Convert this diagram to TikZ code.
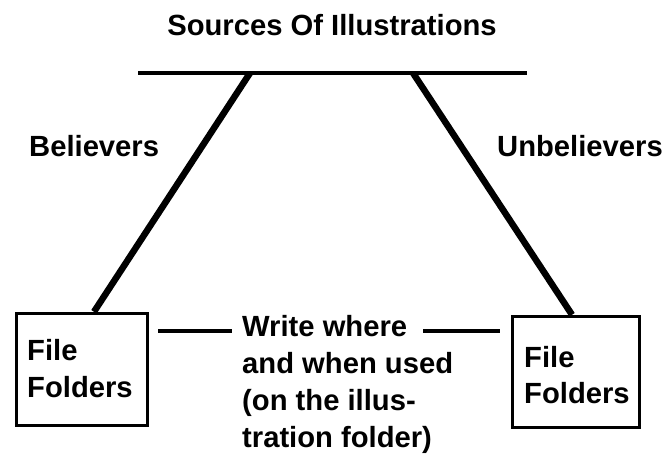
\documentclass[tikz,border=0pt]{standalone}
\usepackage{fontspec}
\setmainfont{Liberation Sans}
\begin{document}
\begin{tikzpicture}[x=1pt,y=-1pt,
  lbl/.style={font=\bfseries\fontsize{29.2}{36.8}\selectfont, inner sep=0pt, anchor=base west},
  folder/.style={draw, line width=3.5pt, inner sep=0pt},
  thick line/.style={line width=6.5pt},
  thin line/.style={line width=4.5pt}]
\useasboundingbox (0,0) rectangle (667,455);
% title and bar
\node[lbl, anchor=base] (title) at (332,35) {Sources Of Illustrations};
\coordinate (barL) at (138,73);
\coordinate (barR) at (527,73);
\draw[thin line] (barL) -- (barR);
% boxes
\node[folder, minimum width=131pt, minimum height=112pt] (lbox) at (82,369.5) {};
\node[folder, minimum width=127pt, minimum height=111pt] (rbox) at (576,372) {};
\node[lbl] (ltext) at (27,360) {File};
\node[lbl] (ltext2) at (27,397) {Folders};
\node[lbl] (rtext) at (524,367) {File};
\node[lbl] (rtext2) at (524,403) {Folders};
% labels
\node[lbl] (bel) at (29,156) {Believers};
\node[lbl] (unbel) at (497,156) {Unbelievers};
% note (base anchor = baseline of the last line)
\node[lbl, anchor=base west, align=left] (note) at (242,447)
  {Write where\\and when used\\(on the illus-\\tration folder)};
% diagonals
\coordinate (ltop) at (250,73);
\coordinate (rtop) at (413,73);
\coordinate (lx) at (94,0);
\coordinate (rx) at (572,0);
\draw[thick line] (ltop) -- (lbox.north -| lx);
\draw[thick line] (rtop) -- (rbox.north -| rx);
% horizontal connectors
\coordinate (h1a) at (158,331);
\coordinate (h1b) at (232,331);
\coordinate (h2a) at (423,331);
\coordinate (h2b) at (500,331);
\draw[thin line] (h1a) -- (h1b);
\draw[thin line] (h2a) -- (h2b);
\end{tikzpicture}
\end{document}
